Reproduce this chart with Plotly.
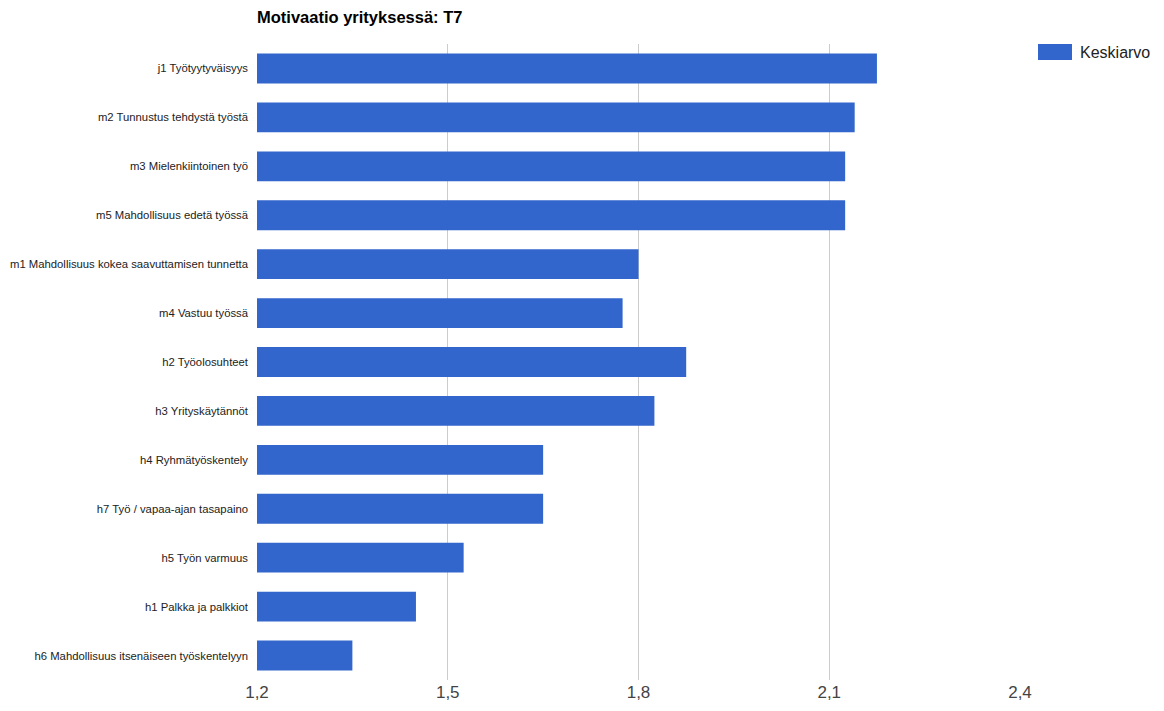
import plotly.graph_objects as go

categories = [
    "j1 Työtyytyväisyys",
    "m2 Tunnustus tehdystä työstä",
    "m3 Mielenkiintoinen työ",
    "m5 Mahdollisuus edetä työssä",
    "m1 Mahdollisuus kokea saavuttamisen tunnetta",
    "m4 Vastuu työssä",
    "h2 Työolosuhteet",
    "h3 Yrityskäytännöt",
    "h4 Ryhmätyöskentely",
    "h7 Työ / vapaa-ajan tasapaino",
    "h5 Työn varmuus",
    "h1 Palkka ja palkkiot",
    "h6 Mahdollisuus itsenäiseen työskentelyyn",
]
keskiarvo = [2.175, 2.14, 2.125, 2.125, 1.80, 1.775, 1.875, 1.825, 1.65, 1.65, 1.525, 1.45, 1.35]
x_ticks = [1.2, 1.5, 1.8, 2.1, 2.4]
series_name = "Keskiarvo"
bar_color = "#3366cc"

W, H = 1164, 711
L, R, T, B = 257, 144, 44, 31
plot_w = W - L - R
plot_h = H - T - B


def px_x(px):
    return (px - L) / plot_w


def px_y(py):
    return 1 - (py - T) / plot_h


fig = go.Figure(
    go.Bar(
        x=keskiarvo,
        y=categories,
        orientation="h",
        name=series_name,
        marker=dict(color=bar_color, line=dict(width=0)),
        showlegend=False,
    )
)

# legend: wide colour swatch plus label
fig.add_shape(
    type="rect",
    xref="paper", yref="paper",
    x0=px_x(1038), x1=px_x(1072), y0=px_y(60), y1=px_y(44),
    fillcolor=bar_color, line=dict(width=0),
)
fig.add_annotation(
    xref="paper", yref="paper",
    x=px_x(1078), y=px_y(52),
    xanchor="left", yanchor="middle",
    text=series_name, showarrow=False,
    font=dict(family="Arial, Liberation Sans", size=16, color="#222"),
)

fig.update_layout(
    width=W,
    height=H,
    margin=dict(l=L, r=R, t=T, b=B),
    paper_bgcolor="white",
    plot_bgcolor="white",
    separators=",.",
    bargap=0.39,
    showlegend=False,
    title=dict(
        text="<b>Motivaatio yrityksessä: T7</b>",
        x=L / W,
        xanchor="left",
        y=1 - 17 / H,
        yanchor="middle",
        font=dict(family="Arial, Liberation Sans", size=16.5, color="#000"),
    ),
    xaxis=dict(
        range=[1.2, 2.4],
        tickvals=x_ticks,
        tickformat=".1f",
        showgrid=True,
        gridcolor="#cccccc",
        gridwidth=1,
        zeroline=False,
        showline=False,
        ticks="",
        automargin=False,
        tickfont=dict(family="Liberation Sans Narrow, Arial Narrow, Arial", size=17, color="#444"),
    ),
    yaxis=dict(
        autorange="reversed",
        showgrid=False,
        zeroline=False,
        ticks="",
        automargin=False,
        ticklabelstandoff=8,
        tickfont=dict(family="Arial, Liberation Sans", size=11.3, color="#222"),
    ),
)

fig.write_html("out.html")
